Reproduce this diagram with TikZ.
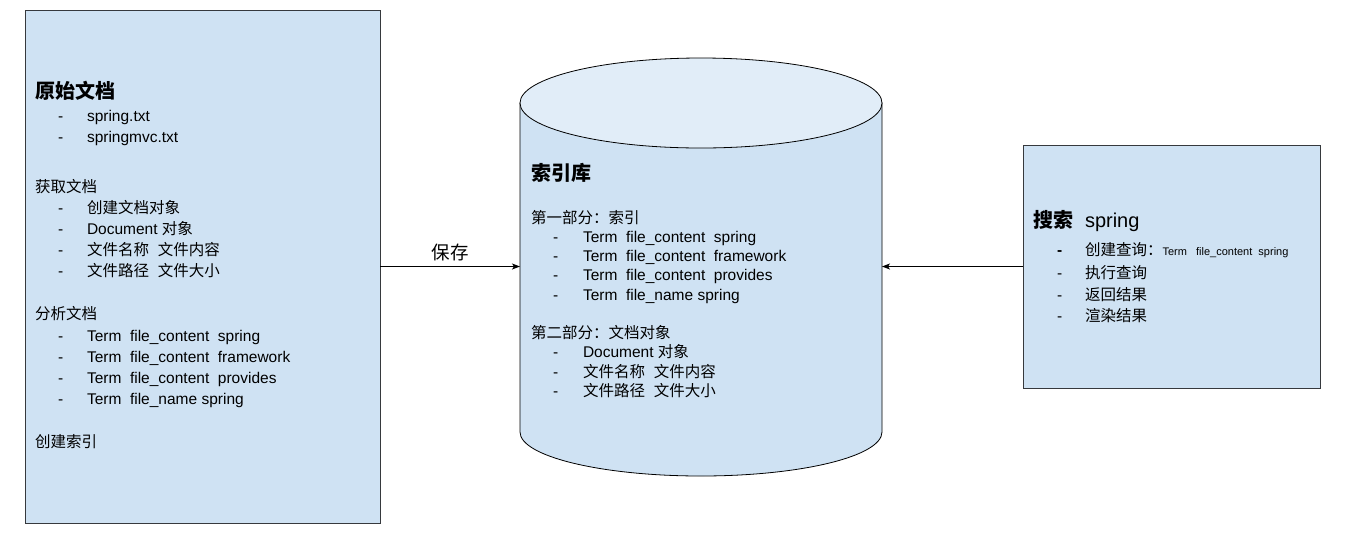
\documentclass[tikz,border=0pt]{standalone}
\usepackage{fontspec}
\setmainfont{Liberation Sans}
\newfontfamily\cjkf{Noto Sans CJK SC}
\newcommand\zh[1]{{\cjkf #1}}
\usetikzlibrary{arrows.meta}
\definecolor{boxfill}{HTML}{CFE2F3}
\definecolor{topfill}{HTML}{E1EDF8}
\definecolor{boxline}{HTML}{36393D}
\tikzset{
 panel/.style={draw=boxline, fill=boxfill, line width=1pt, inner sep=0pt, outer sep=0pt, rectangle},
 txt/.style={inner sep=0pt, outer sep=0pt, anchor=base west, font=\fontsize{15.5}{18}\selectfont, text=black},
 ttl/.style={txt, font=\fontsize{20}{24}\selectfont\bfseries},
 conn/.style={-{Stealth[length=8pt,width=6pt,inset=2pt]}, line width=1pt, draw=black},
 cylline/.style={draw=black, line width=0.8pt},
}
\newcommand\itm[5]{\node[txt] (#1d) at (#2,#4) {-}; \node[txt] (#1) at (#3,#4) {#5};}
\begin{document}
\begin{tikzpicture}[x=1pt,y=-1pt]
\useasboundingbox (0,0) rectangle (1371,558);
\fill[white] (0,0) rectangle (1371,558);
% boxes
\node[panel, minimum width=355pt, minimum height=513pt] (src) at (202.5,266.5) {};
\node[panel, minimum width=297pt, minimum height=243pt] (search) at (1171.5,266.5) {};
% cylinder
\node[inner sep=0pt, outer sep=0pt, minimum width=362pt, minimum height=418pt] (db) at (701,266.5) {};
\draw[cylline, fill=boxfill] (520,103) -- (520,432) .. controls (520,456.3) and (601,476) .. (701,476) .. controls (801,476) and (882,456.3) .. (882,432) -- (882,103) -- cycle;
\draw[cylline, fill=topfill] (701,103) ellipse [x radius=181pt, y radius=45pt];
% connectors
\draw[conn] (src.east) -- (db.west);
\node[txt, anchor=base, font=\fontsize{18.5}{22}\selectfont] (savelbl) at (450,259) {\zh{保存}};
\draw[conn] (search.west) -- (db.east);
% left box text
\node[ttl] (t1) at (35,98.5) {\zh{原始文档}};
\itm{a1}{58}{87}{121.5}{spring.txt}
\itm{a2}{58}{87}{142.5}{springmvc.txt}
\node[txt] (h2) at (35,192.5) {\zh{获取文档}};
\itm{b1}{58}{87}{213.5}{\zh{创建文档对象}}
\itm{b2}{58}{87}{234.5}{Document \zh{对象}}
\itm{b3}{58}{87}{255.5}{\zh{文件名称}\hspace{9pt}\zh{文件内容}}
\itm{b4}{58}{87}{276.5}{\zh{文件路径}\hspace{9pt}\zh{文件大小}}
\node[txt] (h3) at (35,319.5) {\zh{分析文档}};
\itm{c1}{58}{87}{341.5}{Term\ \ file\_content\ \ spring}
\itm{c2}{58}{87}{362.5}{Term\ \ file\_content\ \ framework}
\itm{c3}{58}{87}{383.5}{Term\ \ file\_content\ \ provides}
\itm{c4}{58}{87}{404.5}{Term\ \ file\_name spring}
\node[txt] (h4) at (35,447.5) {\zh{创建索引}};
% cylinder text
\node[ttl] (t2) at (531,180.5) {\zh{索引库}};
\node[txt] (p1) at (531,223.5) {\zh{第一部分：索引}};
\itm{d1}{553}{583}{242.5}{Term\ \ file\_content\ \ spring}
\itm{d2}{553}{583}{261.5}{Term\ \ file\_content\ \ framework}
\itm{d3}{553}{583}{280.5}{Term\ \ file\_content\ \ provides}
\itm{d4}{553}{583}{300.5}{Term\ \ file\_name spring}
\node[txt] (p2) at (531,338.5) {\zh{第二部分：文档对象}};
\itm{e1}{553}{583}{357.5}{Document \zh{对象}}
\itm{e2}{553}{583}{377.5}{\zh{文件名称}\hspace{9pt}\zh{文件内容}}
\itm{e3}{553}{583}{396.5}{\zh{文件路径}\hspace{9pt}\zh{文件大小}}
% right box text
\node[ttl] (t3) at (1033,227.5) {\zh{搜索}};
\node[txt, font=\fontsize{20}{24}\selectfont] (t3b) at (1085,227.5) {spring};
\node[txt, font=\fontsize{15.5}{18}\selectfont\bfseries] (f1d) at (1057,255.5) {-};
\node[txt] (f1) at (1085,255.5) {\zh{创建查询：}{\fontsize{11}{13}\selectfont Term\ \ \ file\_content\ \ spring}};
\itm{f2}{1057}{1085}{278.5}{\zh{执行查询}}
\itm{f3}{1057}{1085}{300.5}{\zh{返回结果}}
\itm{f4}{1057}{1085}{321.5}{\zh{渲染结果}}
\end{tikzpicture}
\end{document}
